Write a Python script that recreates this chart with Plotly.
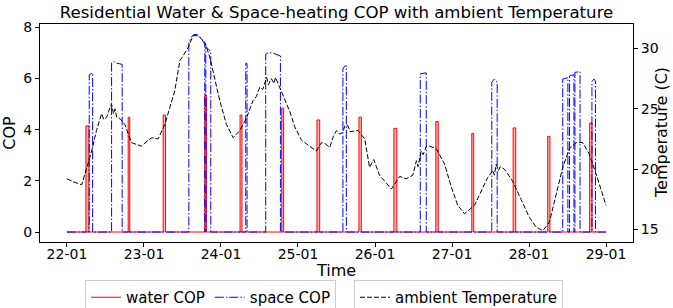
import pandas as pd
import plotly.graph_objects as go

START = pd.Timestamp("2024-01-22 00:00")

# ---- water heating COP pulses (start hour from 22-01 00:00, duration in hours, COP) ----
water_start_h = [5.91, 19.08, 29.98, 42.96, 53.94, 66.93, 77.91, 90.99, 101.88, 114.95, 126.16, 139.05, 149.82, 162.89]
water_dur_h = [0.93, 0.5, 0.75, 0.5, 0.6, 0.6, 0.85, 0.75, 0.93, 0.75, 0.6, 0.8, 0.7, 0.75]
water_cop = [4.15, 4.48, 4.57, 5.36, 4.57, 4.84, 4.38, 4.49, 4.05, 4.32, 3.86, 4.07, 3.74, 4.26]

# ---- space heating COP series (hours, COP) ----
space_h = [0, 6.94, 6.94, 8.0, 8.0,
           13.91, 13.91, 14.8, 15.6, 17.21, 17.21,
           37.98, 37.98, 38.6, 39.5, 40.5, 41.5, 42.96, 42.96,
           43.27, 43.27, 44.82, 44.82,
           55.72, 55.72, 56.12, 56.12,
           61.94, 61.94, 63.0, 64.5, 66.52, 66.52,
           86.0, 86.0, 86.5, 87.07, 87.07,
           110.1, 110.1, 111.97, 111.97,
           132.39, 132.39, 133.2, 134.07, 134.07,
           154.5, 154.5, 156.1, 156.1,
           156.6, 156.6, 158.0, 158.0,
           158.3, 158.3, 159.9, 159.9,
           163.6, 163.6, 164.2, 164.7, 164.7, 168.0]
space_cop = [0, 0, 6.15, 6.22, 0,
             0, 6.62, 6.66, 6.6, 6.55, 0,
             0, 7.4, 7.6, 7.72, 7.72, 7.62, 7.35, 0,
             0, 7.25, 7.05, 0,
             0, 6.59, 6.59, 0,
             0, 6.95, 7.02, 6.98, 6.88, 0,
             0, 6.37, 6.48, 6.5, 0,
             0, 6.18, 6.22, 0,
             0, 5.85, 5.98, 5.85, 0,
             0, 5.98, 6.03, 0,
             0, 6.1, 6.15, 0,
             0, 6.24, 6.27, 0,
             0, 5.88, 5.98, 5.9, 0, 0]

# ---- ambient temperature (hours, deg C) ----
temp_h = [0, 2, 4.6, 6.1, 7.7, 9.2, 10.0, 10.8, 11.5, 12.4, 13.0, 13.9, 14.5, 15.0, 15.5, 16.5, 18.05,
          20.1, 23.2, 25.3, 26.5, 28.4, 30.5, 33.6, 35.2, 36.0, 37.8, 39.3, 40.9, 43.0, 44.5, 46.0,
          47.6, 49.7, 51.8, 53.9, 55.9, 58.0, 59.0, 60.1, 61.0, 62.2, 62.8, 63.7, 64.5, 65.0, 66.3,
          69.4, 71.0, 73.1, 75.6, 77.7, 79.3, 80.5, 81.9, 83.0, 84.0, 85.0, 86.0, 86.6, 87.6, 88.2,
          90.7, 92.8, 94.3, 95.6, 97.4, 99.5, 101.1, 103.7, 105.7, 107.8, 108.9, 109.4, 110.4, 111.0,
          112.0, 113.0, 115.1, 117.7, 119.8, 121.8, 123.9, 127.0, 129.6, 131.1, 132.0, 132.7, 133.2,
          133.75, 134.5, 135.0, 136.3, 138.9, 141.5, 144.1, 146.2, 148.3, 150.35, 152.4, 154.5, 156.6,
          158.7, 160.7, 162.8, 164.9, 166.9, 168.0]
temp_c = [19.2, 18.95, 18.7, 20.0, 21.5, 23.2, 23.9, 24.6, 24.1, 24.3, 24.8, 25.4, 24.6, 25.0, 24.3, 24.2, 23.7,
          22.2, 21.9, 22.4, 22.6, 22.5, 23.7, 26.5, 29.0, 29.3, 30.1, 31.06, 31.06, 30.5, 29.3, 27.5,
          25.7, 23.7, 22.6, 23.2, 24.2, 25.7, 26.0, 26.8, 26.6, 27.6, 27.0, 27.5, 27.1, 27.6, 26.8,
          24.8, 23.5, 22.4, 21.9, 21.5, 22.2, 22.1, 21.8, 22.7, 23.2, 22.9, 23.05, 23.6, 23.6, 23.1,
          23.2, 22.5, 20.15, 20.8, 19.5, 18.8, 18.35, 19.4, 19.2, 19.5, 20.7, 20.2, 21.5, 21.2,
          21.9, 21.9, 21.7, 20.4, 18.5, 17.0, 16.3, 17.0, 18.5, 19.3, 19.6, 19.9, 19.5,
          20.4, 19.9, 20.2, 20.0, 19.0, 17.5, 16.0, 15.2, 14.9, 15.6, 17.9, 20.15, 21.7,
          22.2, 22.2, 21.25, 19.6, 17.9, 17.0]

x_ticks = [f"{d}-01" for d in range(22, 30)]

# build water step series
wh, wv = [0.0], [0.0]
for s, d, c in zip(water_start_h, water_dur_h, water_cop):
    wh += [s, s, s + d, s + d]
    wv += [0, c, c, 0]
wh.append(168.0)
wv.append(0.0)


def to_time(hours):
    return [START + pd.Timedelta(hours=h) for h in hours]


FONT = "DejaVu Sans"
fig = go.Figure()
fig.add_trace(go.Scatter(x=to_time(wh), y=wv, mode="none", fill="tozeroy",
                         fillcolor="rgba(255,90,90,0.45)", showlegend=False, hoverinfo="skip"))
fig.add_trace(go.Scatter(x=to_time(wh), y=wv, mode="lines", name="water COP",
                         line=dict(color="red", width=1), legend="legend"))
fig.add_trace(go.Scatter(x=to_time(space_h), y=space_cop, mode="lines", name="space COP",
                         line=dict(color="blue", width=1, dash="9px,2px,1.5px,2px"), legend="legend"))
fig.add_trace(go.Scatter(x=to_time(temp_h), y=temp_c, mode="lines", name="ambient Temperature",
                         line=dict(color="black", width=1, dash="5px,2px"), yaxis="y2", legend="legend2"))

tick_vals = [START + pd.Timedelta(days=i) for i in range(8)]
axis_common = dict(showline=True, linecolor="black", linewidth=1, ticks="outside", ticklen=4,
                   tickcolor="black", showgrid=False, zeroline=False, automargin=False,
                   tickfont=dict(size=14, color="black", family=FONT))

fig.update_layout(
    template="none",
    width=673, height=308,
    margin=dict(l=40, r=40, t=24, b=66, autoexpand=False),
    paper_bgcolor="white", plot_bgcolor="white",
    font=dict(family=FONT, color="black"),
    showlegend=True,
    title=dict(text="Residential Water & Space-heating COP with ambient Temperature",
               x=0.5, xanchor="center", xref="paper", yref="container", y=1 - 12 / 308,
               yanchor="middle",
               font=dict(size=16.6, family=FONT, color="black")),
    xaxis=dict(**axis_common, mirror=True, tickvals=tick_vals, ticktext=x_ticks,
               ticklabelstandoff=-5,
               range=[START - pd.Timedelta(hours=8.4), START + pd.Timedelta(hours=176.4)],
               title=dict(text="Time", font=dict(size=16, family=FONT), standoff=0)),
    yaxis=dict(**axis_common, range=[-0.39, 8.13], tickvals=[0, 2, 4, 6, 8],
               title=dict(text="COP", font=dict(size=16, family=FONT), standoff=6)),
    yaxis2=dict(**axis_common, overlaying="y", side="right", range=[13.96, 32.03],
                tickvals=[15, 20, 25, 30]),
    annotations=[dict(text="Temperature (C)", textangle=-90, xref="paper", yref="paper",
                      x=1 + (661 - 633) / 593, y=0.5, xanchor="center", yanchor="middle",
                      showarrow=False, font=dict(size=16, family=FONT, color="black"))],
    legend=dict(orientation="h", x=85 / 673, y=1 - 280 / 308, xref="container", yref="container",
                xanchor="left", yanchor="top",
                bordercolor="#cccccc", borderwidth=1, bgcolor="white",
                font=dict(size=15, family=FONT)),
    legend2=dict(orientation="h", x=354 / 673, y=1 - 280 / 308, xref="container", yref="container",
                 xanchor="left", yanchor="top",
                 bordercolor="#cccccc", borderwidth=1, bgcolor="white",
                 font=dict(size=15, family=FONT)),
)

fig.write_html("out.html", config={"displayModeBar": False},
               post_script="document.body.style.margin='0';")
